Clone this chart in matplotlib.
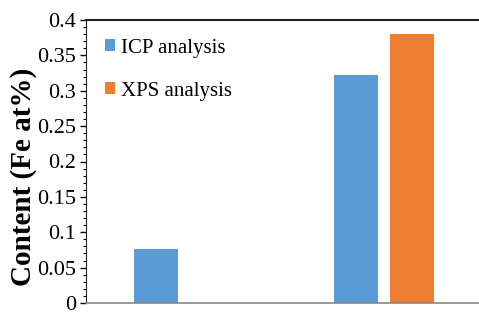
import matplotlib.pyplot as plt
from matplotlib.ticker import MultipleLocator, FormatStrFormatter

plt.rcParams['font.family'] = ['Liberation Serif', 'DejaVu Serif']

groups = [0, 1]
icp = [0.076, 0.3225]
xps = [0.0, 0.380]
labels = ['ICP analysis', 'XPS analysis']

fig = plt.figure(figsize=(4.79, 3.12), dpi=100)
ax = fig.add_axes([86/479, 1 - 303/312, 1 - 86/479, (303 - 20)/312])

w = 0.22
ax.bar([g - 0.14 for g in groups], icp, w, color='#5B9BD5', label=labels[0])
ax.bar([g + 0.14 for g in groups], xps, w, color='#ED7D31', label=labels[1])

ax.set_xlim(-0.49, 1.475)
ax.set_ylim(0, 0.4)
ax.yaxis.set_major_locator(MultipleLocator(0.05))
ax.yaxis.set_minor_locator(MultipleLocator(0.01))
ax.yaxis.set_major_formatter(FormatStrFormatter('%g'))
ax.set_xticks([])
ax.tick_params(axis='y', labelsize=16, direction='out', length=4, width=1, pad=3)
ax.tick_params(axis='y', which='minor', length=2.5, width=0.8)

ax.spines['right'].set_visible(False)
ax.spines['top'].set_color('#222222')
ax.spines['top'].set_linewidth(1.5)
ax.spines['left'].set_color('#222222')
ax.spines['bottom'].set_color('#888888')
ax.spines['bottom'].set_linewidth(1.2)

ax.set_ylabel('Content (Fe at%)', fontsize=21, fontweight='bold')
ax.yaxis.set_label_coords(-0.125, 0.445)

ax.legend(loc='upper left', bbox_to_anchor=(0.0, 1.0), frameon=False,
          fontsize=15, handlelength=0.5, handleheight=0.5, handletextpad=0.3,
          labelspacing=1.15)

fig.savefig('out.png', dpi=100)
